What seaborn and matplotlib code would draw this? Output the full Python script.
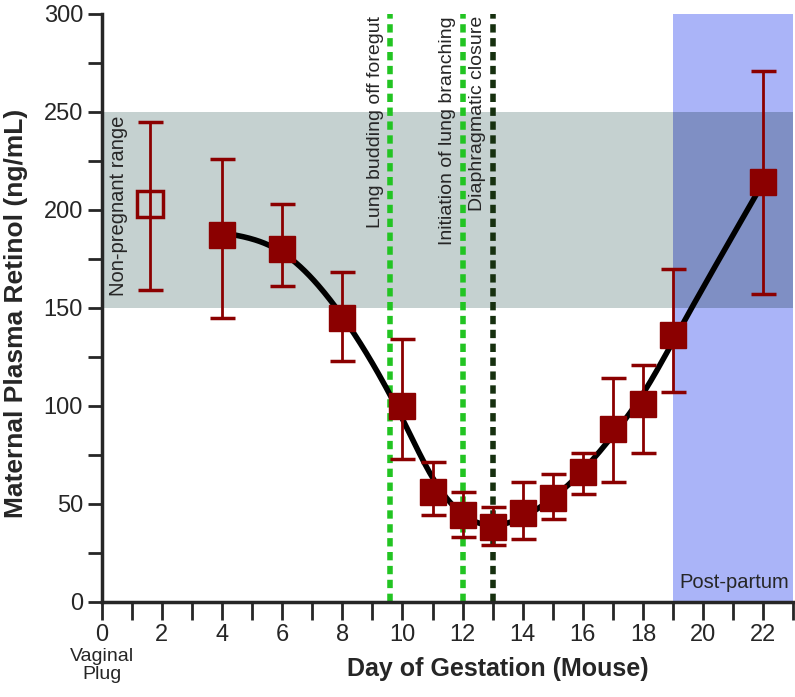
import numpy as np
import pandas as pd
import seaborn as sns
import matplotlib.pyplot as plt

# -------- data --------
days = [4, 6, 8, 10, 11, 12, 13, 14, 15, 16, 17, 18, 19, 22]
retinol = [187, 180, 145, 100, 56, 44, 38, 45, 53, 66, 88, 101, 136, 214]
err_low = [145, 161, 123, 73, 44, 33, 29, 32, 42, 55, 61, 76, 107, 157]
err_high = [226, 203, 168, 134, 71, 56, 48, 61, 65, 76, 114, 121, 170, 271]

nonpreg_day = 1.6
nonpreg_val = 203
nonpreg_low = 159
nonpreg_high = 245

range_low, range_high = 150, 250
postpartum_start, postpartum_end = 19, 23

events = ["Lung budding off foregut", "Initiation of lung branching", "Diaphragmatic closure"]
event_days = [9.6, 12.0, 13.0]
event_colors = ["#22c422", "#22c422", "#16300f"]

RED = "#8b0000"


def smooth_curve(x, y, step=0.05, lam=0.35):
    # penalised (smoothing-spline like) fit on a fine grid
    x = np.asarray(x, float)
    y = np.asarray(y, float)
    grid = np.arange(x[0], x[-1] + step / 2, step)
    n = len(grid)
    idx = np.rint((x - x[0]) / step).astype(int)
    w = np.zeros(n)
    z = np.zeros(n)
    w[idx] = 1.0
    z[idx] = y
    D = np.diff(np.eye(n), 2, axis=0)
    A = np.diag(w) + lam / step**3 * D.T @ D
    return grid, np.linalg.solve(A, w * z)


sns.set_style("ticks")
plt.rcParams["font.family"] = ["Liberation Sans", "DejaVu Sans"]

fig = plt.figure(figsize=(7.95, 6.97), dpi=100)
ax = fig.add_axes([0.128, 0.137, 0.87, 0.843])

# background bands
ax.axvspan(postpartum_start, postpartum_end, color="#aab4f8", lw=0, zorder=0)
ax.fill_between([0, postpartum_start], range_low, range_high, color="#c5d1d0", lw=0, zorder=0)
ax.fill_between([postpartum_start, postpartum_end], range_low, range_high, color="#7f8fc4", lw=0, zorder=0)

# smooth trend
gx, gy = smooth_curve(days, retinol)
curve = pd.DataFrame({"day": gx, "retinol": gy})
sns.lineplot(data=curve, x="day", y="retinol", color="black", lw=4, ax=ax, zorder=3)

# event lines
for name, d, c in zip(events, event_days, event_colors):
    ax.axvline(d, color=c, lw=4, ls=(0, (1.5, 1.0)), zorder=2)
    ax.text(d - 0.22, 299, name, rotation=90, ha="right", va="top", fontsize=14)

# points with error bars
r = np.array(retinol)
yerr = [r - np.array(err_low), np.array(err_high) - r]
ax.errorbar(days, retinol, yerr=yerr, fmt="s", color=RED, ms=19, mec=RED,
            elinewidth=2, capsize=9, capthick=2.5, zorder=4)
ax.errorbar([nonpreg_day], [nonpreg_val],
            yerr=[[nonpreg_val - nonpreg_low], [nonpreg_high - nonpreg_val]],
            fmt="s", color=RED, ms=19, mfc="none", mec=RED, mew=2.5,
            elinewidth=2, capsize=9, capthick=2.5, zorder=4)

ax.text(0.55, 248, "Non-pregnant range", rotation=90, ha="center", va="top", fontsize=14.5)
ax.text(postpartum_start + 0.2, 5, "Post-partum", ha="left", va="bottom", fontsize=14.5)

ax.set_xlim(0, 23)
ax.set_ylim(0, 300)
ax.set_xticks(range(0, 23, 2))
ax.set_xticks(range(1, 24, 2), minor=True)
ax.set_yticks(range(0, 301, 50))
ax.set_yticks(range(25, 300, 50), minor=True)
ax.tick_params(axis="both", which="major", labelsize=17, width=2, direction="out")
ax.tick_params(axis="x", which="both", length=13, width=2)
ax.tick_params(axis="y", which="both", length=10, width=2)

ax.set_xlabel("Day of Gestation (Mouse)", fontsize=18, fontweight="bold")
ax.xaxis.set_label_coords(0.572, -0.095)
ax.set_ylabel("Maternal Plasma Retinol (ng/mL)", fontsize=19, fontweight="bold")
ax.yaxis.set_label_coords(-0.107, 0.49)
ax.text(0, -23.5, "Vaginal\nPlug", ha="center", va="top", fontsize=14, linespacing=1.15)

sns.despine(ax=ax)
for s in ["left", "bottom"]:
    ax.spines[s].set_linewidth(2.5)
ax.grid(False)

fig.savefig("out.png", dpi=100)
